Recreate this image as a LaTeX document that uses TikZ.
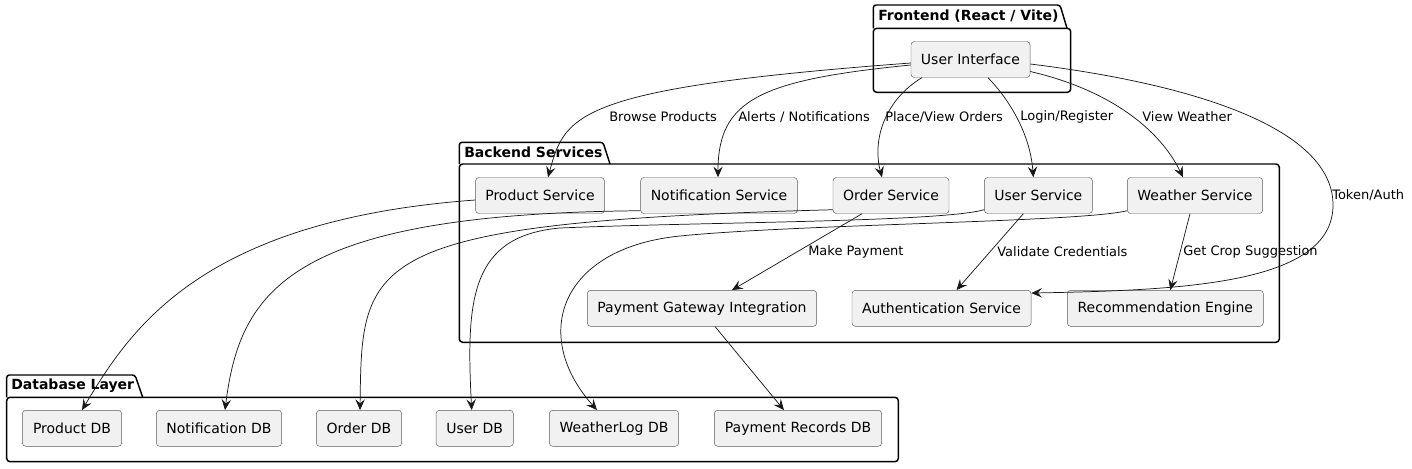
\documentclass[tikz,border=0pt]{standalone}
\usepackage{fontspec}
\setmainfont{DejaVu Sans}
\usepackage{tikz}
\usetikzlibrary{arrows.meta}
\usetikzlibrary{calc}
\definecolor{boxfill}{HTML}{F1F1F1}
\definecolor{ink}{HTML}{181818}
\definecolor{boxline}{HTML}{5A5A5A}
\tikzset{
  box/.style={draw=boxline, line width=0.35pt, fill=boxfill, rounded corners=2.5pt, minimum height=27pt, font=\fontsize{10.5}{12}\selectfont},
  pkg/.style={draw=black, line width=1.1pt},
  pkgtitle/.style={anchor=west, inner sep=0pt, font=\fontsize{10.5}{12}\selectfont\bfseries},
  lbl/.style={anchor=west, inner sep=0pt, font=\fontsize{9.75}{11}\selectfont},
  flow/.style={draw=ink, line width=0.55pt, -{Stealth[length=8pt,width=7pt,inset=3pt]}}
}
\begin{document}
\begin{tikzpicture}[x=0.75pt,y=-0.75pt]
\useasboundingbox (0,0) rectangle (1412,468);
\draw[pkg, rounded corners=2pt] (873.3,28.3) -- (873.3,5) -- (1060,5) -- (1067,28.3);
\draw[pkg, rounded corners=2.5pt] (873.3,28.3) rectangle (1070.7,92.3);
\draw[pkg, rounded corners=2pt] (459.3,164) -- (459.3,142.3) -- (603,142.3) -- (610,164);
\draw[pkg, rounded corners=2.5pt] (459.3,164) rectangle (1279.3,342.3);
\draw[pkg, rounded corners=2pt] (6.7,397.3) -- (6.7,375) -- (135,375) -- (142.7,397.3);
\draw[pkg, rounded corners=2.5pt] (6.7,397.3) rectangle (898.3,461.7);
\node[pkgtitle] (fetitle) at (878,15.7) {Frontend (React / Vite)};
\node[pkgtitle] (betitle) at (464,152.5) {Backend Services};
\node[pkgtitle] (dbtitle) at (11,385.7) {Database Layer};

\node[box, minimum width=89.25pt] (ui) at (970.5,59.5) {User Interface};

\node[box, minimum width=96.5pt] (prodsvc) at (540,195.5) {Product Service};
\node[box, minimum width=117.5pt] (notifsvc) at (719,195.5) {Notification Service};
\node[box, minimum width=87pt] (ordersvc) at (891,195.5) {Order Service};
\node[box, minimum width=81pt] (usersvc) at (1038.3,195.5) {User Service};
\node[box, minimum width=101.5pt] (weathersvc) at (1195,195.5) {Weather Service};
\node[box, minimum width=172pt] (paygw) at (702,308.3) {Payment Gateway Integration};
\node[box, minimum width=134.25pt] (authsvc) at (941.5,308.3) {Authentication Service};
\node[box, minimum width=147pt] (recengine) at (1165.3,308.3) {Recommendation Engine};

\node[box, minimum width=74.5pt] (proddb) at (72,428.3) {Product DB};
\node[box, minimum width=94pt] (notifdb) at (219,428.3) {Notification DB};
\node[box, minimum width=64pt] (orderdb) at (359,428.3) {Order DB};
\node[box, minimum width=58pt] (userdb) at (474.7,428.3) {User DB};
\node[box, minimum width=97pt] (weatherdb) at (614,428.3) {WeatherLog DB};
\node[box, minimum width=125.5pt] (payrecdb) at (798,428.3) {Payment Records DB};

\draw[flow] ($(ui.west)+(0,3.5)$) .. controls +(-336,25) and +(17,-62.5) .. ($(prodsvc.north)+(8,0)$);
\draw[flow] ($(ui.west)+(0,5.5)$) .. controls +(-151,15) and +(0,-77.5) .. ($(notifsvc.north)+(-1,0)$);
\draw[flow] ($(ui.south west)+(11,0)$) .. controls +(-37,22.5) and +(-10,-37.5) .. ($(ordersvc.north)+(-9,0)$);
\draw[flow] ($(ui.south)+(17.5,0)$) .. controls +(22,22.5) and +(-3,-42.5) .. ($(usersvc.north)+(-5,0)$);
\draw[flow] ($(ui.east)+(0,12)$) .. controls +(80,18.5) and +(-23,-47.5) .. ($(weathersvc.north)+(-12,0)$);
\draw[flow] ($(ui.east)+(0,4.5)$) .. controls +(170,21) and +(0,-75) .. (1333,205)
  .. controls +(0,80) and +(149,-3) .. ($(authsvc.north east)+(0,3)$);
\node[lbl] (lbrowse) at (609,117) {Browse Products};
\node[lbl] (lalerts) at (738,117) {Alerts / Notifications};
\node[lbl] (lorders) at (885,117) {Place/View Orders};
\node[lbl] (llogin) at (1020,117) {Login/Register};
\node[lbl] (lweather) at (1142,117) {View Weather};
\node[lbl] (ltoken) at (1332,195) {Token/Auth};

\draw[flow] ($(usersvc.south)+(-15,0)$) -- ($(authsvc.north)+(15,0)$);
\draw[flow] ($(weathersvc.south)+(-5,0)$) -- ($(recengine.north)+(5,0)$);
\draw[flow] ($(ordersvc.south)+(-29,0)$) -- ($(paygw.north)+(30,0)$);
\draw[flow] ($(paygw.south)+(13,0)$) -- ($(payrecdb.north)+(-14,0)$);
\node[lbl] (lpay) at (808,252) {Make Payment};
\node[lbl] (lvalid) at (997,252) {Validate Credentials};
\node[lbl] (lcrop) at (1183,252) {Get Crop Suggestion};

\draw[flow] ($(prodsvc.west)+(0,4.5)$) .. controls +(-275.7,20) and +(48,-80) .. ($(proddb.north)+(10,0)$);
\draw[flow] ($(notifsvc.south west)+(0,-3)$) .. controls +(-350.7,3) and +(15,-120) .. ($(notifdb.north)+(6,0)$);
\draw[flow] ($(ordersvc.south west)+(0,-4)$) .. controls +(-473,12.5) and +(2,-150) .. ($(orderdb.north)+(1,0)$);
\draw[flow] ($(usersvc.south west)+(0,-4)$) .. controls +(-44,12.5) and +(140,-6) .. (560,228)
  .. controls +(-90,8) and +(-5.7,-110) .. ($(userdb.north)+(-3,0)$);
\draw[flow] ($(weathersvc.south west)+(0,-3)$) .. controls +(-47,11.5) and +(120,-12) .. (680,236)
  .. controls +(-120,12) and +(-67,-75) .. ($(weatherdb.north)+(-17,0)$);
\end{tikzpicture}
\end{document}
